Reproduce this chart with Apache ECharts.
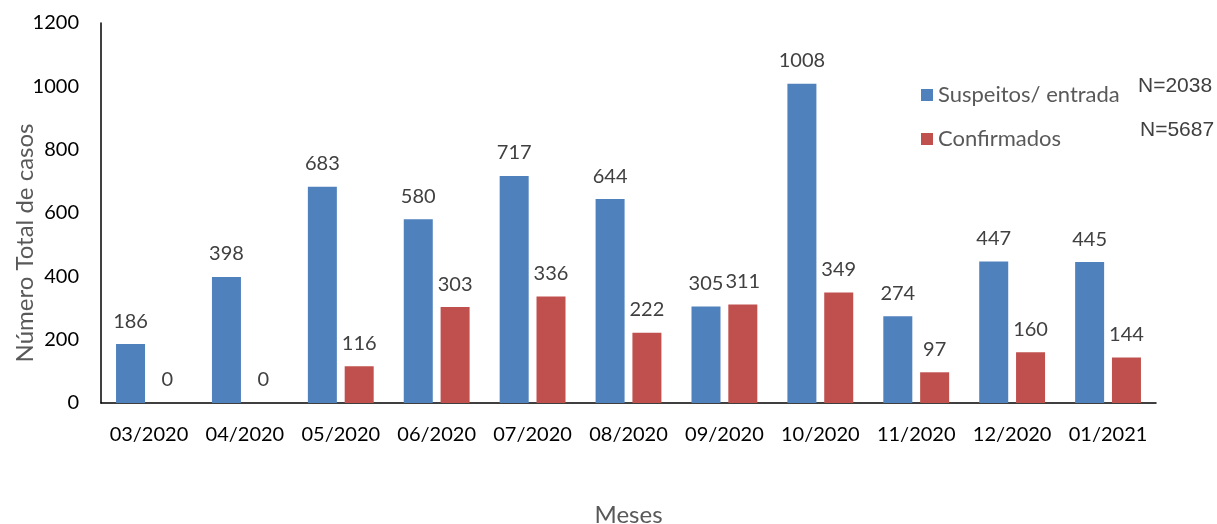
<!DOCTYPE html>
<html>
<head>
<meta charset="utf-8">
<script src="https://cdn.jsdelivr.net/npm/echarts@6/dist/echarts.min.js"></script>
<style>
  html, body { margin: 0; padding: 0; background: #fff; }
  #main { width: 1217px; height: 524px; }
</style>
</head>
<body>
<div id="main"></div>
<script>
var meses = ['03/2020', '04/2020', '05/2020', '06/2020', '07/2020', '08/2020', '09/2020', '10/2020', '11/2020', '12/2020', '01/2021'];
var suspeitos = [186, 398, 683, 580, 717, 644, 305, 1008, 274, 447, 445];
var confirmados = [0, 0, 116, 303, 336, 222, 311, 349, 97, 160, 144];
var yTicks = [0, 200, 400, 600, 800, 1000, 1200];

var fonte = 'Lato, "Open Sans", sans-serif';
var rotulo = {
  show: true,
  position: 'top',
  distance: 13,
  color: '#404040',
  fontSize: 20,
  fontFamily: fonte
};

var myChart = echarts.init(document.getElementById('main'));
myChart.setOption({
  animation: false,
  grid: { left: 101, right: 61, top: 23, bottom: 121, outerBoundsMode: 'none', containLabel: false },
  legend: {
    orient: 'vertical',
    left: 916,
    top: 79,
    itemWidth: 12,
    itemHeight: 12,
    itemGap: 22,
    icon: 'rect',
    textStyle: { color: '#595959', fontSize: 22, fontFamily: fonte },
    data: ['Suspeitos/ entrada', 'Confirmados']
  },
  xAxis: {
    type: 'category',
    data: meses,
    name: 'Meses',
    nameLocation: 'middle',
    nameGap: 100,
    nameTextStyle: { color: '#595959', fontSize: 24, fontFamily: fonte },
    axisLine: { lineStyle: { color: '#000', width: 1.5 } },
    axisTick: { show: false },
    axisLabel: { color: '#000', fontSize: 20, fontFamily: fonte, margin: 22, interval: 0 }
  },
  yAxis: {
    type: 'value',
    min: yTicks[0],
    max: yTicks[yTicks.length - 1],
    interval: 200,
    name: 'Número Total de casos',
    nameLocation: 'middle',
    nameGap: 64,
    nameMoveOverlap: false,
    nameTextStyle: { color: '#595959', fontSize: 24, fontFamily: fonte, padding: [0, 60, 0, 0] },
    axisLine: { show: true, lineStyle: { color: '#000', width: 1.5 } },
    axisTick: { show: false },
    splitLine: { show: false },
    axisLabel: {
      color: '#000', fontSize: 20, fontFamily: fonte, margin: 22,
      formatter: function (v) { return String(v); }
    }
  },
  series: [
    {
      name: 'Suspeitos/ entrada',
      type: 'bar',
      data: suspeitos,
      barWidth: 29,
      barGap: '27%',
      itemStyle: { color: '#4F81BD' },
      label: rotulo
    },
    {
      name: 'Confirmados',
      type: 'bar',
      data: confirmados,
      barWidth: 29,
      itemStyle: { color: '#C0504D' },
      label: rotulo
    }
  ],
  graphic: [
    {
      type: 'text', left: 1138, top: 76,
      style: { text: 'N=2038', fill: '#404040', fontSize: 21, fontFamily: '"Liberation Sans", Arial, sans-serif' }
    },
    {
      type: 'text', left: 1140, top: 120,
      style: { text: 'N=5687', fill: '#404040', fontSize: 21, fontFamily: '"Liberation Sans", Arial, sans-serif' }
    }
  ]
});
</script>
</body>
</html>
